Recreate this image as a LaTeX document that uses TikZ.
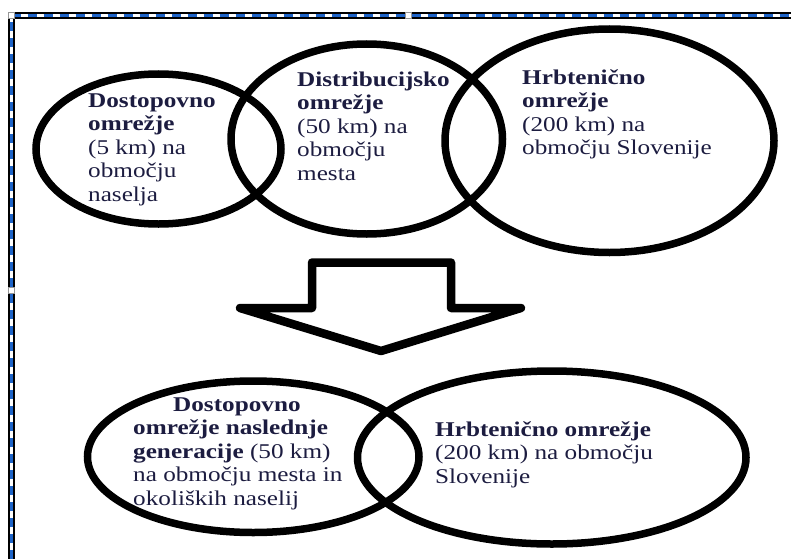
\documentclass[tikz,border=0pt]{standalone}
\usepackage{fontspec}
\setmainfont{Liberation Serif}[FakeStretch=1.2]
\usetikzlibrary{shapes.geometric}
\definecolor{txt}{RGB}{28,28,64}
\definecolor{selblue}{RGB}{30,100,200}
\definecolor{handlegray}{RGB}{150,150,150}
\newcommand{\tstrut}{\rule{0pt}{15pt}}
\begin{document}
\begin{tikzpicture}[x=1pt,y=-1pt,
  ell/.style={draw=black, line width=7.5pt, ellipse, inner sep=0pt},
  lbl/.style={anchor=north west, inner sep=0pt, align=left, text=txt,
    font=\fontsize{21}{23.5}\selectfont},
  handle/.style={draw=handlegray, fill=white, line width=0.8pt, minimum size=6pt, inner sep=0pt, rectangle}]
\useasboundingbox (0,0) rectangle (791,559);
% selection frame
\coordinate (fbl) at (11,559);
\coordinate (ftl) at (11,15.5);
\coordinate (ftr) at (791,15.5);
\draw[black, line width=7pt] (fbl) -- (ftl) -- (ftr);
\draw[white, line width=3pt] (fbl) -- (ftl) -- (ftr);
\draw[selblue, line width=3pt, dash pattern=on 9pt off 7pt] (fbl) -- (ftl) -- (ftr);
\node[handle] (h1) at (11,15.5) {};
\node[handle] (h2) at (408,15.5) {};
\node[handle] (h3) at (11,290) {};
% top ellipses
\node[ell, minimum width=245pt, minimum height=150pt] (e1) at (158.5,149) {};
\node[ell, minimum width=271.5pt, minimum height=190pt] (e2) at (366.75,139) {};
\node[ell, minimum width=329pt, minimum height=223.5pt] (e3) at (609.5,140.75) {};
\node[lbl] (t1) at (88,92) {\tstrut\textbf{Dostopovno}\\\textbf{omrežje}\\(5 km) na\\območju\\naselja};
\node[lbl] (t2) at (297,71) {\tstrut\textbf{Distribucijsko}\\\textbf{omrežje}\\(50 km) na\\območju\\mesta};
\node[lbl] (t3) at (522,69) {\tstrut\textbf{Hrbtenično}\\\textbf{omrežje}\\(200 km) na\\območju Slovenije};
% block arrow
\draw[line width=8.5pt, line join=round] (312,262.5) -- (451,262.5) -- (451,308) -- (521,308) -- (381,351) -- (240,308) -- (312,308) -- cycle;
% bottom ellipses
\node[ell, minimum width=331.5pt, minimum height=151.5pt] (b1) at (253.25,456.75) {};
\node[ell, minimum width=388.5pt, minimum height=173pt] (b2) at (551.75,457.5) {};
\node[lbl] (t4) at (133,396) {\tstrut\hspace*{40pt}\textbf{Dostopovno}\\\textbf{omrežje naslednje}\\\textbf{generacije} (50 km)\\na območju mesta in\\okoliških naselij};
\node[lbl] (t5) at (435,421) {\tstrut\textbf{Hrbtenično omrežje}\\(200 km) na območju\\Slovenije};
\end{tikzpicture}
\end{document}
